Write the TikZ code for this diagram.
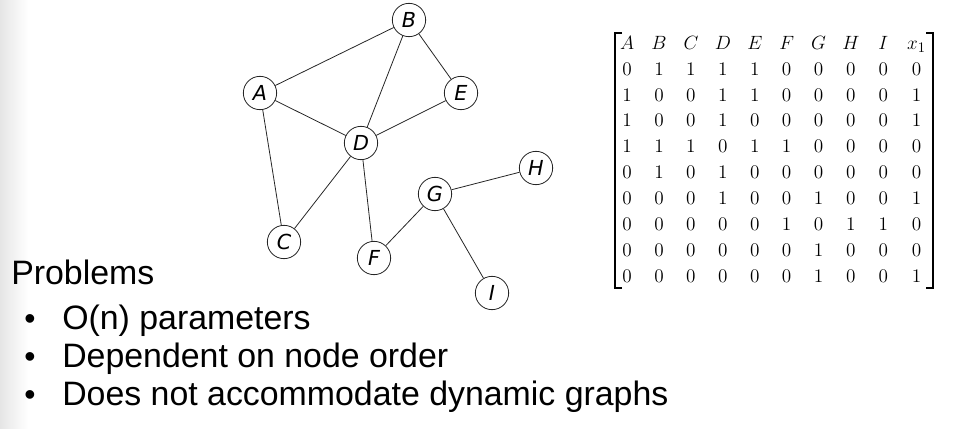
\documentclass[tikz,border=0pt]{standalone}
\usepackage{fontspec}
\usepackage{tikz}
\usetikzlibrary{matrix}
\newfontfamily\slidefont{Liberation Sans}
\newfontfamily\vertfont{DejaVu Sans}
\definecolor{edge}{rgb}{.15,.15,.15}
\definecolor{shadow}{rgb}{.9,.9,.9}

\begin{document}
\begin{tikzpicture}[x=.75pt, y=-.75pt,
	vert/.style={circle, draw=edge, line width=.6pt, minimum size=25pt, inner sep=0pt,
		font=\vertfont\itshape\fontsize{15.5}{16}\selectfont},
	link/.style={edge, line width=.6pt},
	brack/.style={line width=.9pt},
	item/.style={anchor=base west, inner sep=0pt, font=\slidefont\fontsize{25.4}{30}\selectfont},
	dot/.style={anchor=base, inner sep=0pt, font=\slidefont\fontsize{24}{24}\selectfont}]

	\useasboundingbox (0,0) rectangle (966,428);
	\shade[left color=shadow, right color=white] (0,0) rectangle (28,428);

	\node[vert] (A) at (260,93) {A};
	\node[vert] (B) at (409,20) {B};
	\node[vert] (C) at (284,242) {C};
	\node[vert] (D) at (361,143) {D};
	\node[vert] (E) at (461,93) {E};
	\node[vert] (F) at (374,258) {F};
	\node[vert] (G) at (435,194) {G};
	\node[vert] (H) at (536,168) {H};
	\node[vert] (I) at (492,293) {I};

	\draw[link] (A) -- (B);
	\draw[link] (B) -- (D);
	\draw[link] (B) -- (E);
	\draw[link] (A) -- (D);
	\draw[link] (D) -- (E);
	\draw[link] (A) -- (C);
	\draw[link] (C) -- (D);
	\draw[link] (D) -- (F);
	\draw[link] (F) -- (G);
	\draw[link] (G) -- (H);
	\draw[link] (G) -- (I);

	\matrix (adj) [matrix of math nodes,
		column sep=11.9pt, row sep=6.4pt,
		nodes={inner sep=0pt, minimum width=12pt, text height=10pt, text depth=3pt,
			font=\fontsize{15}{16}\selectfont}] at (772.5,161) {
		A & B & C & D & E & F & G & H & I & x_1 \\
		0 & 1 & 1 & 1 & 1 & 0 & 0 & 0 & 0 & 0 \\
		1 & 0 & 0 & 1 & 1 & 0 & 0 & 0 & 0 & 1 \\
		1 & 0 & 0 & 1 & 0 & 0 & 0 & 0 & 0 & 1 \\
		1 & 1 & 1 & 0 & 1 & 1 & 0 & 0 & 0 & 0 \\
		0 & 1 & 0 & 1 & 0 & 0 & 0 & 0 & 0 & 0 \\
		0 & 0 & 0 & 1 & 0 & 0 & 1 & 0 & 0 & 1 \\
		0 & 0 & 0 & 0 & 0 & 1 & 0 & 1 & 1 & 0 \\
		0 & 0 & 0 & 0 & 0 & 0 & 1 & 0 & 0 & 0 \\
		0 & 0 & 0 & 0 & 0 & 0 & 1 & 0 & 0 & 1 \\
	};

	\draw[brack] (622,33) -- (615,33) -- (615,288) -- (622,288);
	\draw[brack] (926,33) -- (933,33) -- (933,288) -- (926,288);

	\node[item] (title) at (11,284) {Problems};
	\node[item] (p1) at (62,329) {O(n) parameters};
	\node[item] (p2) at (62,367) {Dependent on node order};
	\node[item] (p3) at (62,405) {Does not accommodate dynamic graphs};
	\node[dot] (b1) at (30,329) {•};
	\node[dot] (b2) at (30,367) {•};
	\node[dot] (b3) at (30,405) {•};
\end{tikzpicture}
\end{document}
